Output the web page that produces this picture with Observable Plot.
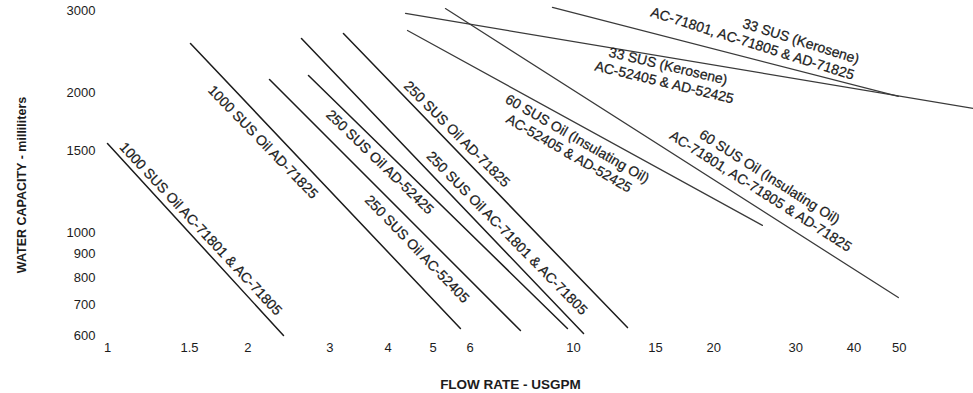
<!DOCTYPE html>
<html><head><meta charset="utf-8">
<script src="https://cdn.jsdelivr.net/npm/d3@7"></script>
<script src="https://cdn.jsdelivr.net/npm/@observablehq/plot@0.6"></script>
<style>
body{margin:0;background:#fff;}
svg{background:#fff;}
</style></head><body><div id="chart"></div>
<script>
// Axis ticks
const flowTicks = [1, 1.5, 2, 3, 4, 5, 6, 7, 8, 9, 10, 15, 20, 30, 40, 50];
const capacityTicks = [600, 700, 800, 900, 1000, 1500, 2000, 3000];

// Curves (flow USGPM, water capacity ml) — start and end points
const curveNames = [
  "1000 SUS AC-71801/AC-71805",
  "1000 SUS AD-71825",
  "250 SUS AD-52425",
  "250 SUS AC-52405",
  "250 SUS AD-71825",
  "250 SUS AC-71801/AC-71805",
  "60 SUS AC-52405/AD-52425",
  "60 SUS AC-71801/AC-71805/AD-71825",
  "33 SUS AC-52405/AD-52425",
  "33 SUS AC-71801/AC-71805/AD-71825"
];
const curveViscosity = [1000, 1000, 250, 250, 250, 250, 60, 60, 33, 33];
const curveStartFlow = [1.0, 1.507, 2.70, 2.227, 2.608, 3.209, 4.404, 5.312, 4.361, 9.014];
const curveStartCap  = [1553, 2548, 2175, 2131, 2611, 2677, 2717, 3029, 2956, 3045];
const curveEndFlow   = [2.386, 5.72, 9.707, 7.695, 10.51, 13.06, 25.44, 49.8, 72.2, 49.8];
const curveEndCap    = [600, 621, 621, 615, 606, 624, 1035, 724, 1846, 1960];

// Curve labels
const labelTexts = [
  "1000 SUS Oil AC-71801 & AC-71805",
  "1000 SUS Oil AD-71825",
  "250 SUS Oil AD-52425",
  "250 SUS Oil AC-52405",
  "250 SUS Oil AD-71825",
  "250 SUS Oil AC-71801 & AC-71805",
  "60 SUS Oil (Insulating Oil)\nAC-52405 & AD-52425",
  "60 SUS Oil (Insulating Oil)\nAC-71801, AC-71805 & AD-71825",
  "33 SUS (Kerosene)\nAC-52405 & AD-52425",
  "33 SUS (Kerosene)\nAC-71801, AC-71805 & AD-71825"
];
const labelFlow  = [1.59, 2.162, 3.853, 4.627, 5.637, 7.218, 10.0, 25.83, 15.83, 40.5];
const labelCap   = [1020, 1568, 1420, 923, 1631, 999, 1538, 1274, 2196, 2270];
const labelAngle = [47, 46, 44, 46, 45, 45.5, 30, 32.5, 13.5, 17.5];
const labelAlign = ["middle","middle","middle","middle","middle","middle","middle","middle","middle","end"];

const lineRows = curveNames.flatMap((n, i) => [
  {name: n, visc: curveViscosity[i], flow: curveStartFlow[i], cap: curveStartCap[i]},
  {name: n, visc: curveViscosity[i], flow: curveEndFlow[i], cap: curveEndCap[i]}
]);
const labelRows = labelTexts.map((t, i) => ({text: t, flow: labelFlow[i], cap: labelCap[i], angle: labelAngle[i], align: labelAlign[i]}));

const font = "'Liberation Sans', Arial, Helvetica, sans-serif";
const ink = "#1c1c1c";
const textOpts = {
  x: "flow", y: "cap", text: "text", rotate: "angle",
  lineAnchor: "middle", lineHeight: 1.2,
  fontSize: 14, fill: ink, stroke: ink, strokeWidth: 0.25, fontFamily: font
};

const chart = Plot.plot({
  width: 973,
  height: 393,
  marginLeft: 107,
  marginRight: 0,
  marginTop: 0,
  marginBottom: 58,
  style: {fontFamily: font, fontSize: "13px", color: ink, background: "#fff"},
  x: {type: "log", domain: [1, 72.2], ticks: flowTicks, tickFormat: d => String(d), tickSize: 0, tickPadding: 7, label: null},
  y: {type: "log", domain: [600, 3152], ticks: capacityTicks, tickFormat: d => String(d), tickSize: 0, tickPadding: 12, label: null},
  marks: [
    Plot.line(lineRows.filter(d => d.visc >= 250), {x: "flow", y: "cap", z: "name", stroke: ink, strokeWidth: 1.5}),
    Plot.line(lineRows.filter(d => d.visc < 250), {x: "flow", y: "cap", z: "name", stroke: "#3a3a3a", strokeWidth: 1.25}),
    Plot.text(labelRows.filter(d => d.align === "middle"), {...textOpts, textAnchor: "middle"}),
    Plot.text(labelRows.filter(d => d.align === "end"), {...textOpts, textAnchor: "end"}),
    Plot.text(["FLOW RATE - USGPM"], {frameAnchor: "bottom", textAnchor: "middle", dx: -30, dy: 49, fontWeight: "bold", fontSize: 13.5, fill: ink, lineAnchor: "middle"}),
    Plot.text(["WATER CAPACITY - milliliters"], {frameAnchor: "left", textAnchor: "middle", dx: -86, dy: 17, rotate: -90, fontWeight: "bold", fontSize: 12.5, fill: ink, lineAnchor: "middle"})
  ]
});
document.getElementById("chart").appendChild(chart);
</script></body></html>
